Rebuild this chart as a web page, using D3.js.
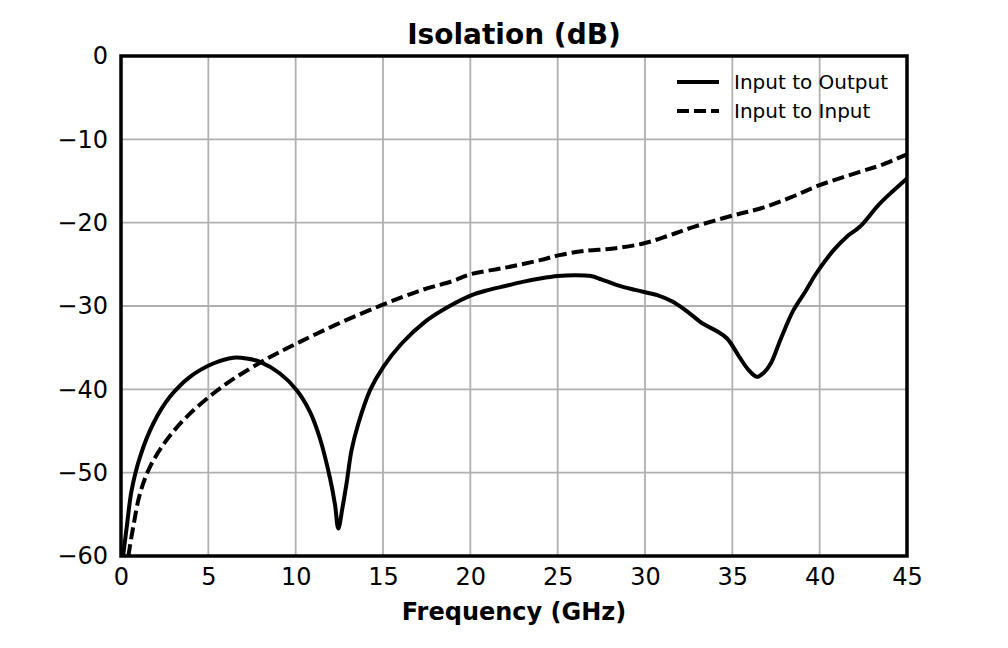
<!DOCTYPE html>
<html>
<head>
<meta charset="utf-8">
<script src="https://cdn.jsdelivr.net/npm/d3@7"></script>
<style>
  body { margin: 0; background: #fff; }
  text { font-family: "DejaVu Sans", sans-serif; }
</style>
</head>
<body>
<svg id="chart"></svg>
<script>
// Isolation curves (frequency GHz, dB)
const outFreq = [0.12, 0.33, 0.61, 1.09, 1.85, 2.8, 3.95, 5.28, 6.43, 7.2, 7.96, 9.1, 10.06, 10.82, 11.39, 11.97, 12.25, 12.44, 12.68, 12.92, 13.2, 13.59, 14.26, 15.02, 16.07, 17.4, 18.74, 20.08, 21, 22, 23, 24, 25, 26, 26.9, 27.5, 28.4, 29.5, 30.7, 31.6, 32.5, 33.3, 34.1, 34.7, 35.4, 35.9, 36.4, 36.8, 37.2, 37.8, 38.5, 39.2, 39.8, 40.8, 41.6, 42.3, 43.4, 44.2, 45];
const outDb   = [-60, -56.5, -52.1, -48.1, -44.1, -40.9, -38.5, -36.9, -36.2, -36.3, -36.7, -38.1, -40.1, -42.7, -45.9, -50.7, -53.8, -56.7, -54.2, -51.2, -47.3, -44.1, -40.1, -37.3, -34.5, -31.9, -30.1, -28.7, -28.1, -27.6, -27.1, -26.7, -26.4, -26.3, -26.4, -26.8, -27.5, -28.1, -28.7, -29.5, -30.8, -32.1, -33.0, -33.9, -36.1, -37.6, -38.5, -38.0, -36.9, -33.8, -30.5, -28.2, -26.1, -23.3, -21.6, -20.5, -17.8, -16.2, -14.7];

const inFreq = [0.42, 0.7, 1.09, 1.66, 2.61, 3.76, 5.28, 6.62, 8.05, 9.0, 10.25, 12.25, 14.92, 17.2, 19, 20, 22, 24, 25.1, 26.5, 28.2, 29.9, 31.3, 32.8, 35.1, 36.6, 38.3, 40, 42.3, 43.5, 45];
const inDb   = [-60, -56.5, -52.5, -49.3, -46.1, -43.3, -40.5, -38.5, -36.7, -35.6, -34.3, -32.3, -29.9, -28.1, -27.0, -26.2, -25.4, -24.5, -23.9, -23.4, -23.1, -22.5, -21.6, -20.5, -19.1, -18.3, -17.0, -15.5, -13.9, -13.1, -11.8];

const seriesNames = ["Input to Output", "Input to Input"];
const xTicks = [0, 5, 10, 15, 20, 25, 30, 35, 40, 45];
const yTicks = [0, -10, -20, -30, -40, -50, -60];

const margin = {top: 56, right: 101, bottom: 92, left: 121},
      width = 1008 - margin.left - margin.right,
      height = 648 - margin.top - margin.bottom;

const svg = d3.select("#chart")
    .attr("width", 1008)
    .attr("height", 648);

const g = svg.append("g")
    .attr("transform", `translate(${margin.left},${margin.top})`);

const x = d3.scaleLinear().domain([0, 45]).range([0, width]);
const y = d3.scaleLinear().domain([-60, 0]).range([height, 0]);

// grid
g.append("g")
  .selectAll("line")
  .data(xTicks)
  .enter().append("line")
    .attr("x1", d => x(d)).attr("x2", d => x(d))
    .attr("y1", 0).attr("y2", height)
    .attr("stroke", "#b0b0b0").attr("stroke-width", 1.8);
g.append("g")
  .selectAll("line")
  .data(yTicks)
  .enter().append("line")
    .attr("y1", d => y(d)).attr("y2", d => y(d))
    .attr("x1", 0).attr("x2", width)
    .attr("stroke", "#b0b0b0").attr("stroke-width", 1.8);

// axes (labels only)
const xAxis = g.append("g")
    .attr("transform", `translate(0,${height})`)
    .call(d3.axisBottom(x).tickValues(xTicks).tickSize(0).tickPadding(12));
const yAxis = g.append("g")
    .call(d3.axisLeft(y).tickValues(yTicks).tickSize(0).tickPadding(13));
[xAxis, yAxis].forEach(a => {
  a.select(".domain").remove();
  a.selectAll("text")
    .style("font-family", "DejaVu Sans, sans-serif")
    .style("font-size", "24px")
    .attr("fill", "#000");
});

// curves
const line = d3.line()
    .x(d => x(d[0]))
    .y(d => y(d[1]))
    .curve(d3.curveCatmullRom.alpha(0.5));

const outData = outFreq.map((f, i) => [f, outDb[i]]);
const inData = inFreq.map((f, i) => [f, inDb[i]]);

g.append("path")
    .datum(inData)
    .attr("d", line)
    .attr("fill", "none")
    .attr("stroke", "#000")
    .attr("stroke-width", 4)
    .attr("stroke-dasharray", "12,5");

g.append("path")
    .datum(outData)
    .attr("d", line)
    .attr("fill", "none")
    .attr("stroke", "#000")
    .attr("stroke-width", 4);

// frame
g.append("rect")
    .attr("width", width).attr("height", height)
    .attr("fill", "none")
    .attr("stroke", "#000")
    .attr("stroke-width", 3.5);

// title and x label
svg.append("text")
    .attr("x", margin.left + width / 2)
    .attr("y", 44)
    .attr("text-anchor", "middle")
    .style("font-size", "28px")
    .style("font-weight", "bold")
    .text("Isolation (dB)");

svg.append("text")
    .attr("x", margin.left + width / 2)
    .attr("y", 620)
    .attr("text-anchor", "middle")
    .style("font-size", "24px")
    .style("font-weight", "bold")
    .text("Frequency (GHz)");

// legend
seriesNames.forEach((name, i) => {
  const yPos = 82 + i * 29;
  svg.append("line")
      .attr("x1", 677).attr("x2", 719)
      .attr("y1", yPos).attr("y2", yPos)
      .attr("stroke", "#000")
      .attr("stroke-width", 4)
      .attr("stroke-dasharray", i === 1 ? "12,5" : null);
  svg.append("text")
      .attr("x", 734)
      .attr("y", yPos)
      .attr("dominant-baseline", "central")
      .style("font-size", "20px")
      .text(name);
});
</script>
</body>
</html>
